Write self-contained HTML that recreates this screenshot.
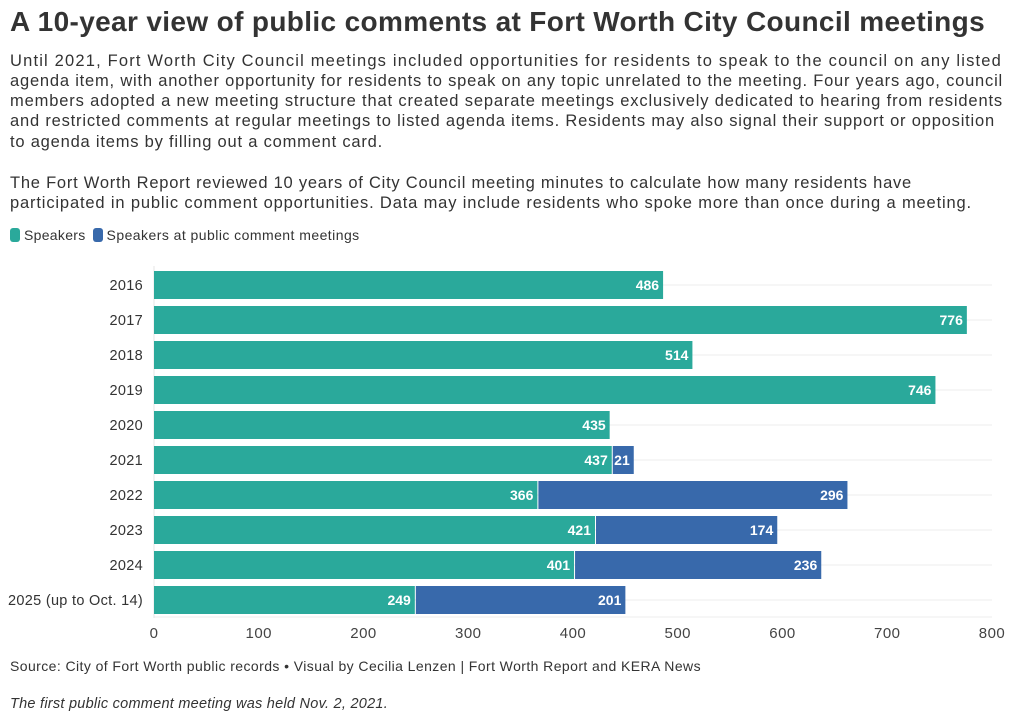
<!DOCTYPE html>
<html><head><meta charset="utf-8"><style>
body{margin:0;background:#fff;font-family:"Liberation Sans",sans-serif;color:#333}
#wrap{position:relative;width:1020px;height:724px;overflow:hidden}
.fit{position:absolute;left:10px;white-space:nowrap}
h1.fit{top:6px;margin:0;font-size:28px;font-weight:bold;color:#333}
.dl{font-size:16.5px;line-height:20px;color:#333}
.legend{position:absolute;left:10px;top:227px;font-size:14px;color:#333;display:flex;align-items:center;white-space:nowrap}
.sw{display:inline-block;width:10px;height:14px;border-radius:3px;margin-right:4px}
.src{top:658px;font-size:14px;color:#333}
.note{top:696px;font-size:14.5px;font-style:italic;color:#333}
</style></head><body><div id="wrap">
<h1 class="fit" data-w="975">A 10-year view of public comments at Fort Worth City Council meetings</h1>
<div>
<div class="fit dl" style="top:51px" data-w="992">Until 2021, Fort Worth City Council meetings included opportunities for residents to speak to the council on any listed</div>
<div class="fit dl" style="top:71px" data-w="993">agenda item, with another opportunity for residents to speak on any topic unrelated to the meeting. Four years ago, council</div>
<div class="fit dl" style="top:91px" data-w="993">members adopted a new meeting structure that created separate meetings exclusively dedicated to hearing from residents</div>
<div class="fit dl" style="top:111px" data-w="985">and restricted comments at regular meetings to listed agenda items. Residents may also signal their support or opposition</div>
<div class="fit dl" style="top:132px" data-w="373">to agenda items by filling out a comment card.</div>
</div>
<div>
<div class="fit dl" style="top:173px" data-w="902">The Fort Worth Report reviewed 10 years of City Council meeting minutes to calculate how many residents have</div>
<div class="fit dl" style="top:193px" data-w="962">participated in public comment opportunities. Data may include residents who spoke more than once during a meeting.</div>
</div>
<div class="legend">
<span class="sw" style="background:#2aa99b"></span><span style="margin-right:7px;letter-spacing:0.3px">Speakers</span>
<span class="sw" style="background:#3869ab"></span><span style="letter-spacing:0.45px">Speakers at public comment meetings</span>
</div>
<svg id="chart" width="1020" height="724" style="position:absolute;left:0;top:0"></svg>
<div class="fit src" data-w="691">Source: City of Fort Worth public records • Visual by Cecilia Lenzen | Fort Worth Report and KERA News</div>
<div class="fit note" data-w="378">The first public comment meeting was held Nov. 2, 2021.</div>
</div>
<script>
const categories=["2016","2017","2018","2019","2020","2021","2022","2023","2024","2025 (up to Oct. 14)"];
const speakers=[486,776,514,746,435,437,366,421,401,249];
const publicSpeakers=[0,0,0,0,0,21,296,174,236,201];
const ticks=[0,100,200,300,400,500,600,700,800];
document.querySelectorAll('.fit').forEach(el=>{
  const tw=+el.dataset.w;const nw=el.getBoundingClientRect().width;const n=el.textContent.length;
  el.style.letterSpacing=((tw-nw)/n)+'px';
});
const NS="http://www.w3.org/2000/svg";
const svg=document.getElementById('chart');
const x0=154,x1=992,maxV=800;
const xs=v=>x0+v*(x1-x0)/maxV;
const rowTop=i=>271+i*35;
const bh=28;
function mk(t,a){const e=document.createElementNS(NS,t);for(const k in a)e.setAttribute(k,a[k]);svg.appendChild(e);return e;}
categories.forEach((c,i)=>{
  const g=mk('line',{x1:x0,x2:x1,y1:rowTop(i)+bh/2,y2:rowTop(i)+bh/2,stroke:'#ececec','stroke-width':1});
  
  
});
mk('line',{x1:x0,x2:x1,y1:617,y2:617,stroke:'#ececec'});
mk('line',{x1:x0,x2:x0,y1:266,y2:618,stroke:'#e6e6e6'});
categories.forEach((c,i)=>{
  const y=rowTop(i);
  const lb=mk('text',{x:143,y:y+bh/2+5,'text-anchor':'end','font-size':14.5,fill:'#333','letter-spacing':0.3});
  lb.textContent=c;
  
  
  const w=xs(speakers[i])-x0;
  const r=mk('rect',{x:x0,y:y,width:w,height:bh,fill:'#2aa99b'});
  
  
  const t=mk('text',{x:xs(speakers[i])-4,y:y+bh/2+5,'text-anchor':'end','font-size':14,'font-weight':'bold',fill:'#fff'});
  t.textContent=speakers[i];
  
  
  if(publicSpeakers[i]>0){
    const xa=xs(speakers[i]),xb=xs(speakers[i]+publicSpeakers[i]);
    const r2=mk('rect',{x:xa+1,y:y,width:xb-xa-1,height:bh,fill:'#3869ab'});
    
    
    const t2=mk('text',{x:xb-4,y:y+bh/2+5,'text-anchor':'end','font-size':14,'font-weight':'bold',fill:'#fff'});
    t2.textContent=publicSpeakers[i];
    
    
  }
});
ticks.forEach(v=>{
  const t=mk('text',{x:xs(v),y:638,'text-anchor':'middle','font-size':15,fill:'#444','letter-spacing':0.5});
  t.textContent=v;
  
  
});
</script></body></html>
